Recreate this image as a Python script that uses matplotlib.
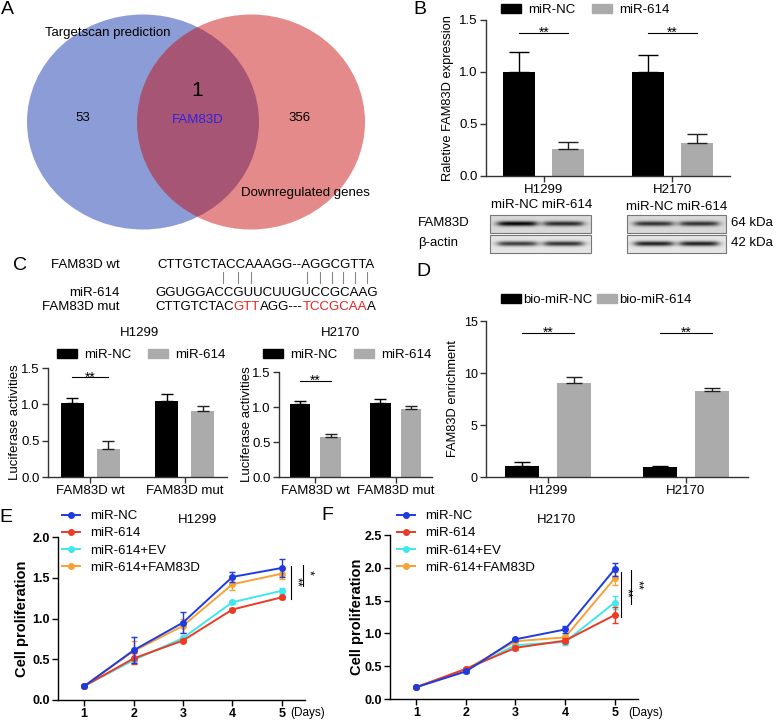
import numpy as np
import matplotlib
matplotlib.use('Agg')
import matplotlib.pyplot as plt
from matplotlib.patches import Ellipse, Rectangle
from matplotlib.lines import Line2D
from matplotlib.ticker import FormatStrFormatter
from matplotlib.transforms import blended_transform_factory

plt.rcParams['font.family'] = ['Liberation Sans', 'DejaVu Sans']

# ---- data ----
venn_sets = ['Targetscan prediction', 'Downregulated genes']
venn_counts = [53, 1, 356]
venn_gene = 'FAM83D'

b_cells = ['H1299', 'H2170']
b_nc = [1.00, 1.00]
b_nc_err = [0.19, 0.16]
b_614 = [0.26, 0.32]
b_614_err = [0.07, 0.08]

c_groups = ['FAM83D wt', 'FAM83D mut']
c_h1299_nc = [1.02, 1.05]
c_h1299_nc_err = [0.07, 0.09]
c_h1299_614 = [0.39, 0.91]
c_h1299_614_err = [0.10, 0.07]
c_h2170_nc = [1.04, 1.06]
c_h2170_nc_err = [0.05, 0.06]
c_h2170_614 = [0.57, 0.97]
c_h2170_614_err = [0.04, 0.04]

d_cells = ['H1299', 'H2170']
d_nc = [1.03, 0.96]
d_nc_err = [0.38, 0.13]
d_614 = [9.04, 8.30]
d_614_err = [0.54, 0.26]

days = [1, 2, 3, 4, 5]
growth_labels = ['miR-NC', 'miR-614', 'miR-614+EV', 'miR-614+FAM83D']
growth_colors = ['#1f3be0', '#ec3a24', '#3fe8ea', '#f5a236']
e_vals = [[0.17, 0.61, 0.95, 1.51, 1.62],
          [0.17, 0.51, 0.73, 1.11, 1.26],
          [0.17, 0.49, 0.76, 1.20, 1.34],
          [0.17, 0.60, 0.91, 1.42, 1.55]]
e_errs = [[0.01, 0.16, 0.13, 0.06, 0.11],
          [0.01, 0.07, 0.02, 0.02, 0.02],
          [0.01, 0.03, 0.02, 0.02, 0.04],
          [0.01, 0.12, 0.09, 0.07, 0.07]]
f_vals = [[0.18, 0.42, 0.91, 1.06, 1.98],
          [0.18, 0.46, 0.78, 0.89, 1.28],
          [0.18, 0.44, 0.82, 0.87, 1.47],
          [0.18, 0.45, 0.88, 0.94, 1.84]]
f_errs = [[0.01, 0.02, 0.02, 0.05, 0.10],
          [0.01, 0.02, 0.03, 0.04, 0.12],
          [0.01, 0.02, 0.02, 0.05, 0.10],
          [0.01, 0.02, 0.02, 0.03, 0.10]]

W, H = 778, 721
fig = plt.figure(figsize=(W / 100, H / 100), dpi=100)

# overlay in pixel coords for venn, blots, sequences and labels
ov = fig.add_axes([0, 0, 1, 1])
ov.axis('off')


def px_axes(x0, y0, x1, y1):
    ax = fig.add_axes([x0 / W, 1 - y1 / H, (x1 - x0) / W, (y1 - y0) / H])
    ax.patch.set_alpha(0)
    return ax


def ylab(ax, text, xpx, **kw):
    ax.set_ylabel(text, va='center', **kw)
    ax.yaxis.set_label_coords(xpx / W, 0.5, transform=blended_transform_factory(fig.transFigure, ax.transAxes))


def sig(ax, x0, x1, y, text='**'):
    ax.plot([x0, x1], [y, y], color='black', lw=0.8)
    ax.annotate(text, xy=((x0 + x1) / 2, y), xytext=(0, -3), textcoords='offset points',
                ha='center', va='baseline', fontsize=10)


def bar_panel(ax, groups, nc, nc_err, tr, tr_err, ymax, yticks, capsize, fmt='%.1f', fs=9.5, xfs=9.5):
    x = np.arange(len(groups))
    w, off = 0.25, 0.19
    ax.bar(x - off, nc, w, color='black')
    ax.bar(x + off, tr, w, color='#ababab')
    z = np.zeros(len(groups))
    ax.errorbar(x - off, nc, yerr=[z, nc_err], fmt='none', ecolor='black', elinewidth=1, capsize=capsize, capthick=1)
    ax.errorbar(x + off, tr, yerr=[z, tr_err], fmt='none', ecolor='#222', elinewidth=1, capsize=capsize, capthick=1)
    ax.set_xlim(-0.45, 1.45)
    ax.set_ylim(0, ymax)
    ax.set_xticks(x)
    ax.set_xticklabels(groups)
    ax.set_yticks(yticks)
    ax.yaxis.set_major_formatter(FormatStrFormatter(fmt))
    for s in ['top', 'right']:
        ax.spines[s].set_visible(False)
    for s in ['left', 'bottom']:
        ax.spines[s].set_color('#333')
        ax.spines[s].set_linewidth(1)
    ax.tick_params(axis='both', direction='out', length=4, width=1, color='#333', pad=2)
    ax.tick_params(axis='y', labelsize=fs)
    ax.tick_params(axis='x', labelsize=xfs)
    return x, off


def bar_legend(ax, labels, xpx, ypx, fs=9.5, tpad=0.55, cspace=1.3):
    handles = [Rectangle((0, 0), 1, 1, color='black'), Rectangle((0, 0), 1, 1, color='#ababab')]
    ax.legend(handles, labels, loc='center left', bbox_to_anchor=(xpx / W, 1 - ypx / H),
              bbox_transform=fig.transFigure, frameon=False, ncol=2, fontsize=fs,
              borderpad=0, borderaxespad=0, handlelength=1.5, handleheight=0.6,
              handletextpad=tpad, columnspacing=cspace)


# ---- A: venn ----
ov.add_patch(Ellipse((143, 122), 232, 215, color='#8b9cd6', lw=0))
ov.add_patch(Ellipse((251, 122), 228, 215, color='#c80606', alpha=0.47, lw=0))
ov.text(108, 33, venn_sets[0], ha='center', va='center', fontsize=9.5)
ov.text(305, 193, venn_sets[1], ha='center', va='center', fontsize=9.5)
ov.text(83, 118, str(venn_counts[0]), ha='center', va='center', fontsize=9.5)
ov.text(197, 90, str(venn_counts[1]), ha='center', va='center', fontsize=15)
ov.text(300, 118, str(venn_counts[2]), ha='center', va='center', fontsize=9.5)
ov.text(198, 120, venn_gene, ha='center', va='center', fontsize=9.5, color='#3320e0')

# ---- B: qPCR + western blot ----
axb = px_axes(486, 20, 730, 176)
xb, off = bar_panel(axb, b_cells, b_nc, b_nc_err, b_614, b_614_err, 1.5, [0, 0.5, 1.0, 1.5], 7)
ylab(axb, 'Raletive FAM83D expression', 448, fontsize=9.3)
for i in range(2):
    sig(axb, xb[i] - off, xb[i] + off, 1.375)
bar_legend(axb, ['miR-NC', 'miR-614'], 501, 10)


def blot(x0, x1, y0, y1, strengths, bg=0.9):
    xs = np.linspace(0, 1, 240)
    ys = np.linspace(0, 1, 40)
    img = np.full((40, 240), bg)
    for centre, s in zip([0.27, 0.73], strengths):
        px = 1 / (1 + np.exp((np.abs(xs - centre) - 0.19) / 0.025))
        py = np.exp(-((ys - 0.48) / 0.14) ** 2)
        img -= s * 0.88 * np.outer(py, px)
    ov.imshow(img, cmap='gray', vmin=0, vmax=1, extent=(x0, x1, y1, y0), aspect='auto',
              interpolation='bilinear', zorder=1)
    ov.add_patch(Rectangle((x0, y0), x1 - x0, y1 - y0, fill=False, ec='#777', lw=0.8, zorder=2))


blot(490, 591, 215, 233, [0.95, 0.78], bg=0.85)
blot(490, 591, 235, 253, [0.75, 0.8])
blot(627, 726, 215, 233, [0.75, 0.75], bg=0.85)
blot(627, 726, 235, 253, [0.88, 0.88])
ov.text(542, 205, 'miR-NC miR-614', ha='center', va='center', fontsize=9.5)
ov.text(677, 207, 'miR-NC miR-614', ha='center', va='center', fontsize=9.5)
ov.text(418, 223, 'FAM83D', ha='left', va='center', fontsize=9.5)
ov.text(418, 243, 'β-actin', ha='left', va='center', fontsize=9.5)
ov.text(731, 223, '64 kDa', ha='left', va='center', fontsize=9.5)
ov.text(731, 243, '42 kDa', ha='left', va='center', fontsize=9.5)

# ---- C: sequences ----
seq_fs = 9.5


def seq_line(x, y, parts):
    t = ov.text(x, y, parts[0][0], color=parts[0][1], fontsize=seq_fs, ha='left', va='center')
    for s, c in parts[1:]:
        t = ov.annotate(s, xy=(1, 0), xycoords=t, color=c, fontsize=seq_fs, ha='left', va='bottom')


ov.text(120, 265, 'FAM83D wt', ha='right', va='center', fontsize=9.5)
ov.text(120, 293, 'miR-614', ha='right', va='center', fontsize=9.5)
ov.text(120, 307, 'FAM83D mut', ha='right', va='center', fontsize=9.5)
seq_line(157, 265, [('CTTGTCTACCAAAGG--AGGCGTTA', 'black')])
seq_line(155, 293, [('GGUGGACCGUUCUUGUCCGCAAG', 'black')])
seq_line(155, 307, [('CTTGTCTAC', 'black'), ('GTT', '#e8231e'), ('AGG---', 'black'),
                    ('TCCGCAA', '#e8231e'), ('A', 'black')])
for xp in [223, 238, 251, 307, 320, 332, 343, 355, 367]:
    ov.plot([xp, xp], [272, 283], color='#888', lw=0.8)

# ---- C: luciferase ----
ov.text(140, 333, 'H1299', ha='center', va='center', fontsize=9.5)
ov.text(341, 333, 'H2170', ha='center', va='center', fontsize=9.5)

axc1 = px_axes(48, 368, 227, 477)
xc, off = bar_panel(axc1, c_groups, c_h1299_nc, c_h1299_nc_err, c_h1299_614, c_h1299_614_err,
                    1.5, [0, 0.5, 1.0, 1.5], 4.3)
ylab(axc1, 'Luciferase activities', 15, fontsize=9.5)
sig(axc1, xc[0] - off, xc[0] + off, 1.37)
bar_legend(axc1, ['miR-NC', 'miR-614'], 57, 355)

axc2 = px_axes(279, 372, 432, 477)
xc, off = bar_panel(axc2, c_groups, c_h2170_nc, c_h2170_nc_err, c_h2170_614, c_h2170_614_err,
                    1.5, [0, 0.5, 1.0, 1.5], 4)
ylab(axc2, 'Luciferase activities', 247, fontsize=9.5)
sig(axc2, xc[0] - off, xc[0] + off, 1.37)
bar_legend(axc2, ['miR-NC', 'miR-614'], 263, 355)

# ---- D: pull-down ----
axd = px_axes(486, 321, 748, 477)
xd, off = bar_panel(axd, d_cells, d_nc, d_nc_err, d_614, d_614_err, 15, [0, 5, 10, 15], 6, fmt='%d', fs=9)
ylab(axd, 'FAM83D enrichment', 453, fontsize=9.3)
for i in range(2):
    sig(axd, xd[i] - off, xd[i] + off, 13.85)
bar_legend(axd, ['bio-miR-NC', 'bio-miR-614'], 501, 300, tpad=0.15, cspace=0.4)


# ---- E / F: growth curves ----
def growth_panel(ax, vals, errs, ymax, yticks):
    order = [2, 3, 1, 0]
    for i in order:
        ax.errorbar(days, vals[i], yerr=errs[i], color=growth_colors[i], marker='o', ms=4,
                    lw=1.4, elinewidth=1, capsize=2.5, capthick=1, zorder=3 + order.index(i))
    ax.set_xlim(0.47, 5.47)
    ax.set_ylim(0, ymax)
    ax.set_xticks(days)
    ax.set_yticks(yticks)
    ax.yaxis.set_major_formatter(FormatStrFormatter('%.1f'))
    for s in ['top', 'right']:
        ax.spines[s].set_visible(False)
    for s in ['left', 'bottom']:
        ax.spines[s].set_linewidth(1)
    ax.tick_params(axis='both', direction='out', length=4, width=1, labelsize=9, pad=2)
    for lbl in ax.get_xticklabels() + ax.get_yticklabels():
        lbl.set_fontweight('bold')


def growth_legend(ax, xpx, ypx):
    handles = [Line2D([], [], color=c, marker='o', ms=4, lw=1.4) for c in growth_colors]
    ax.legend(handles, growth_labels, loc='upper left', bbox_to_anchor=(xpx / W, 1 - ypx / H),
              bbox_transform=fig.transFigure, frameon=False, fontsize=9.5, borderpad=0,
              borderaxespad=0, handlelength=1.4, handletextpad=0.7, labelspacing=0.38)


axe = px_axes(58, 537, 305, 700)
growth_panel(axe, e_vals, e_errs, 2.0, [0, 0.5, 1.0, 1.5, 2.0])
ylab(axe, 'Cell proliferation', 22, fontsize=10.5, fontweight='bold')
growth_legend(axe, 62, 510)
axe.plot([5.18, 5.18], [1.64, 1.24], color='black', lw=0.8, clip_on=False)
axe.text(5.29, 1.45, '**', rotation=270, ha='center', va='center', fontsize=9)
axe.plot([5.42, 5.42], [1.66, 1.40], color='black', lw=0.8, clip_on=False)
axe.text(5.54, 1.56, '*', rotation=270, ha='center', va='center', fontsize=9)
ov.text(198, 520, 'H1299', ha='center', va='center', fontsize=9.5)
ov.text(290, 713, '(Days)', ha='left', va='center', fontsize=8.5)

axf = px_axes(390, 535, 638, 699)
growth_panel(axf, f_vals, f_errs, 2.5, [0, 0.5, 1.0, 1.5, 2.0, 2.5])
ylab(axf, 'Cell proliferation', 357, fontsize=10.5, fontweight='bold')
growth_legend(axf, 397, 510)
axf.plot([5.13, 5.13], [1.94, 1.25], color='black', lw=0.8, clip_on=False)
axf.text(5.24, 1.62, '**', rotation=270, ha='center', va='center', fontsize=9)
axf.plot([5.33, 5.33], [1.96, 1.45], color='black', lw=0.8, clip_on=False)
axf.text(5.45, 1.74, '**', rotation=270, ha='center', va='center', fontsize=9)
ov.text(557, 520, 'H2170', ha='center', va='center', fontsize=9.5)
ov.text(628, 713, '(Days)', ha='left', va='center', fontsize=8.5)

# panel letters
for letter, (x, y) in zip('ABCDEF', [(7, 9), (420, 9), (20, 266), (423, 271), (6, 518), (327, 515)]):
    ov.text(x, y, letter, ha='center', va='center', fontsize=14)

ov.set_xlim(0, W)
ov.set_ylim(H, 0)

fig.savefig('out.png', dpi=100)
